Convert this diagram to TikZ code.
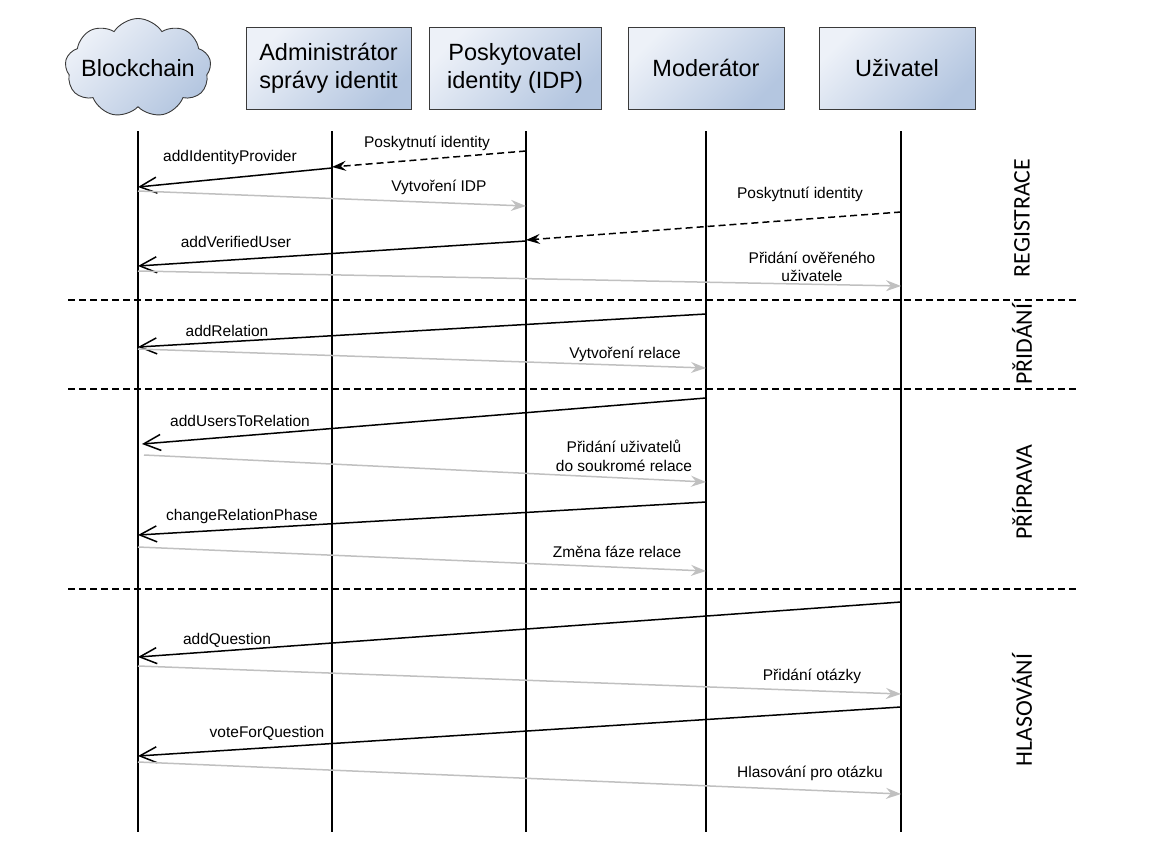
\documentclass[tikz,border=0pt]{standalone}
\usepackage{fontspec}
\setmainfont{Liberation Sans}
\newfontfamily\phasefont{Carlito}
\usetikzlibrary{arrows.meta,shapes.symbols}
\definecolor{boxlight}{HTML}{EDF1F8}
\definecolor{boxdark}{HTML}{B4C6E0}
\definecolor{boxedge}{HTML}{3A3A3A}
\definecolor{msggray}{HTML}{C0C0C0}
\begin{document}
\begin{tikzpicture}[x=1pt,y=-1pt,
  actor/.style={draw=boxedge,line width=0.9pt,left color=boxlight,right color=boxdark,shading angle=45,
    minimum height=82pt,inner sep=0pt,align=center,font=\fontsize{23.5}{28}\selectfont},
  lifeline/.style={line width=2.4pt,black},
  callmsg/.style={line width=1.5pt,black,-{Straight Barb[length=17pt,width=16pt]}},
  retmsg/.style={line width=1.5pt,msggray,-{Stealth[length=15pt,width=11pt,inset=5pt]}},
  dashmsg/.style={line width=1.5pt,black,dash pattern=on 7pt off 4pt,-{Stealth[length=14pt,width=10pt,inset=5pt]}},
  separator/.style={line width=1.3pt,black,dash pattern=on 7pt off 4pt},
  lbl/.style={inner sep=0pt,font=\fontsize{15.5}{18.5}\selectfont,align=center},
  phase/.style={inner sep=0pt,rotate=90,font=\phasefont\fontsize{23.8}{26}\selectfont}]
\useasboundingbox (0,0) rectangle (1168,852);
% actors
\node[cloud,cloud puffs=9,cloud puff arc=115,aspect=1.5,draw=boxedge,line width=0.9pt,
  left color=boxlight,right color=boxdark,shading angle=45,
  minimum width=146pt,minimum height=99pt,inner sep=0pt,font=\fontsize{23.5}{28}\selectfont]
  (bc) at (138,68) {\makebox[0pt]{Blockchain}};
\node[actor,minimum width=165pt] (adm) at (328.5,68) {Administrátor\\správy identit};
\node[actor,minimum width=172pt] (idp) at (515,68) {Poskytovatel\\identity (IDP)};
\node[actor,minimum width=156pt] (mod) at (706,68) {Moderátor};
\node[actor,minimum width=156pt] (usr) at (897,68) {Uživatel};
% lifelines
\coordinate (bcT) at (138,131); \coordinate (bcB) at (138,832);
\coordinate (admT) at (332,131); \coordinate (admB) at (332,832);
\coordinate (idpT) at (526,131); \coordinate (idpB) at (526,832);
\coordinate (modT) at (706,131); \coordinate (modB) at (706,832);
\coordinate (usrT) at (901,131); \coordinate (usrB) at (901,832);
\foreach \a in {bc,adm,idp,mod,usr} \draw[lifeline] (\a T) -- (\a B);
% separators
\coordinate (s1a) at (68,300); \coordinate (s1b) at (1077,300);
\coordinate (s2a) at (68,389); \coordinate (s2b) at (1077,389);
\coordinate (s3a) at (68,589); \coordinate (s3b) at (1077,589);
\draw[separator] (s1a) -- (s1b);
\draw[separator] (s2a) -- (s2b);
\draw[separator] (s3a) -- (s3b);
% REGISTRACE
\coordinate (m1a) at (526,151); \coordinate (m1b) at (332,167);
\draw[dashmsg] (m1a) -- (m1b);
\node[lbl] (l1) at (427,143) {Poskytnutí identity};
\coordinate (m2a) at (332,168); \coordinate (m2b) at (138,187);
\draw[callmsg] (m2a) -- (m2b);
\node[lbl] (l2) at (230,157) {addIdentityProvider};
\coordinate (m3a) at (138,191); \coordinate (m3b) at (526,206);
\draw[retmsg] (m3a) -- (m3b);
\node[lbl] (l3) at (439,187) {Vytvoření IDP};
\coordinate (m4a) at (901,212); \coordinate (m4b) at (526,240);
\draw[dashmsg] (m4a) -- (m4b);
\node[lbl] (l4) at (800,194) {Poskytnutí identity};
\coordinate (m5a) at (526,241); \coordinate (m5b) at (138,266);
\draw[callmsg] (m5a) -- (m5b);
\node[lbl] (l5) at (236,242) {addVerifiedUser};
\coordinate (m6a) at (138,271); \coordinate (m6b) at (901,286);
\draw[retmsg] (m6a) -- (m6b);
\node[lbl] (l6) at (812,267) {Přidání ověřeného\\uživatele};
% PRIDANI
\coordinate (m7a) at (706,314); \coordinate (m7b) at (138,347);
\draw[callmsg] (m7a) -- (m7b);
\node[lbl] (l7) at (227,331) {addRelation};
\coordinate (m8a) at (138,349); \coordinate (m8b) at (706,368);
\draw[retmsg] (m8a) -- (m8b);
\node[lbl] (l8) at (625,354) {Vytvoření relace};
% PRIPRAVA
\coordinate (m9a) at (706,398); \coordinate (m9b) at (142,444);
\draw[callmsg] (m9a) -- (m9b);
\node[lbl] (l9) at (240,421) {addUsersToRelation};
\coordinate (m10a) at (144,455); \coordinate (m10b) at (706,482);
\draw[retmsg] (m10a) -- (m10b);
\node[lbl] (l10) at (624,456) {Přidání uživatelů\\do soukromé relace};
\coordinate (m11a) at (706,502); \coordinate (m11b) at (138,535);
\draw[callmsg] (m11a) -- (m11b);
\node[lbl] (l11) at (242,516) {changeRelationPhase};
\coordinate (m12a) at (138,547); \coordinate (m12b) at (706,571);
\draw[retmsg] (m12a) -- (m12b);
\node[lbl] (l12) at (617,552) {Změna fáze relace};
% HLASOVANI
\coordinate (m13a) at (901,602); \coordinate (m13b) at (138,657);
\draw[callmsg] (m13a) -- (m13b);
\node[lbl] (l13) at (227,640) {addQuestion};
\coordinate (m14a) at (138,666); \coordinate (m14b) at (901,694);
\draw[retmsg] (m14a) -- (m14b);
\node[lbl] (l14) at (812,676) {Přidání otázky};
\coordinate (m15a) at (901,707); \coordinate (m15b) at (138,756);
\draw[callmsg] (m15a) -- (m15b);
\node[lbl] (l15) at (267,733) {voteForQuestion};
\coordinate (m16a) at (138,762); \coordinate (m16b) at (901,794);
\draw[retmsg] (m16a) -- (m16b);
\node[lbl] (l16) at (810,773) {Hlasování pro otázku};
% phases
\node[phase] (p1) at (1022,218) {REGISTRACE};
\node[phase] (p2) at (1022,344) {PŘIDÁNÍ};
\node[phase] (p3) at (1022,492) {PŘÍPRAVA};
\node[phase] (p4) at (1022,710) {HLASOVÁNÍ};
\end{tikzpicture}
\end{document}
